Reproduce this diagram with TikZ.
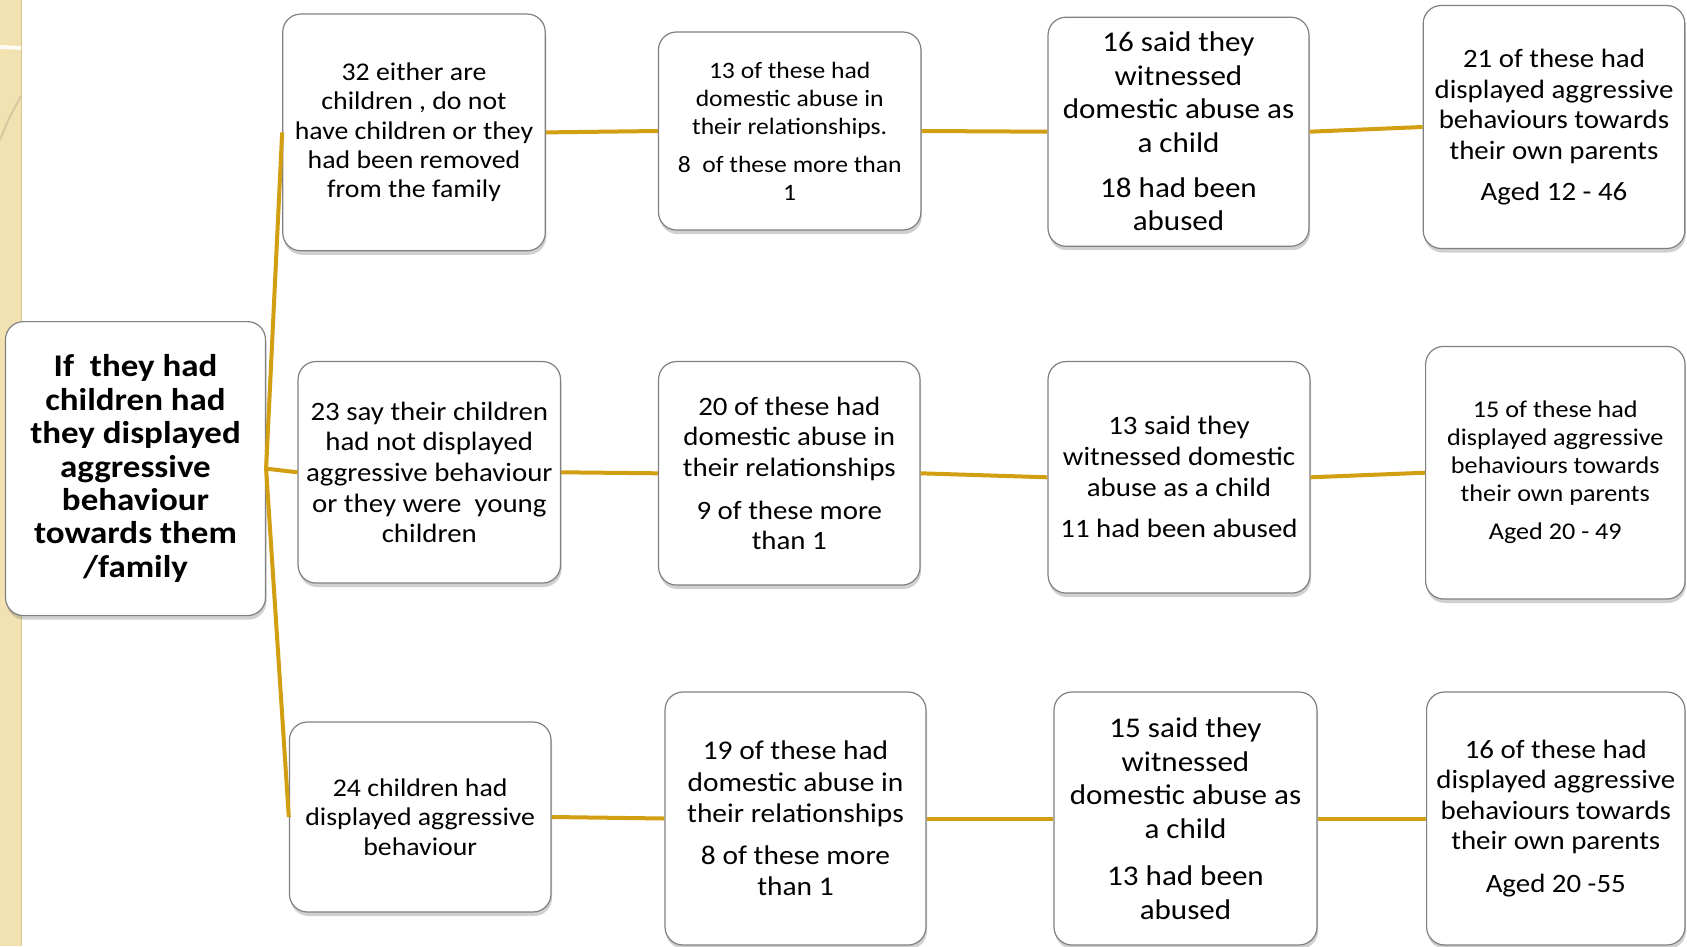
\documentclass[tikz,border=0pt]{standalone}
\usepackage{fontspec}
\setmainfont{Carlito}[FakeStretch=1.09]
\newfontfamily\rootfont{Carlito}[FakeStretch=1.11]
\usetikzlibrary{shadows}
\definecolor{gold}{RGB}{210,158,18}
\definecolor{boxgray}{RGB}{128,128,128}
\definecolor{beige}{RGB}{242,226,178}
\definecolor{beigedark}{RGB}{214,198,152}
\newcommand{\fs}[2]{\fontsize{#1pt}{#2pt}\selectfont}
\tikzset{
  box/.style={draw=boxgray, line width=1.2pt, fill=white, rounded corners=18pt,
    inner sep=0pt, align=center, text=black,
    drop shadow={shadow xshift=1pt, shadow yshift=-4pt, opacity=0.3, fill=black!60}},
  conn/.style={draw=gold, line width=4pt}
}
\begin{document}
\begin{tikzpicture}[x=1pt,y=-1pt]
\useasboundingbox (0,0) rectangle (1687,946);
\fill[white] (0,0) rectangle (1687,946);
% decorative strip
\fill[beige] (0,0) rectangle (21,946);
\draw[beigedark, line width=1pt] (21,0) -- (21,946);
\draw[white!85!beige, line width=4pt] (0,47) -- (21,48);
\draw[beigedark!80!gray, line width=2pt, opacity=0.6] (0,140) .. controls (8,120) .. (21,96);

% nodes
\node[box, minimum width=260pt, minimum height=294pt, font={\rootfont\fs{31.5}{33.4}\bfseries}] (root) at (135.5,468.6)
 {If\ \ they had\\children had\\they displayed\\aggressive\\behaviour\\towards them\\/family};

\node[box, minimum width=262.5pt, minimum height=236.7pt, font={\fs{25.5}{29.3}}] (b1) at (414,132.4)
 {32 either are\\children , do not\\have children or they\\had been removed\\from the family};
\node[box, minimum width=262.5pt, minimum height=198pt, font={\fs{23.5}{28}}] (b2) at (789.7,131)
 {13 of these had\\domestic abuse in\\their relationships.\\[10pt]8\ \ of these more than\\1};
\node[box, minimum width=261pt, minimum height=229pt, font={\fs{28.5}{33.4}}] (b3) at (1178.5,131.7)
 {16 said they\\witnessed\\domestic abuse as\\a child\\[12pt]18 had been\\abused};
\node[box, minimum width=261.6pt, minimum height=243pt, font={\fs{26.5}{30.9}}] (b4) at (1554,127)
 {21 of these had\\displayed aggressive\\behaviours towards\\their own parents\\[10pt]Aged 12 - 46};

\node[box, minimum width=262.5pt, minimum height=221.5pt, font={\fs{26.5}{30.7}}] (c1) at (429.3,472.3)
 {23 say their children\\had not displayed\\aggressive behaviour\\or they were\ \ young\\children};
\node[box, minimum width=261.5pt, minimum height=223.5pt, font={\fs{26.5}{30.7}}] (c2) at (789.3,473.3)
 {20 of these had\\domestic abuse in\\their relationships\\[12pt]9 of these more\\than 1};
\node[box, minimum width=262pt, minimum height=231.5pt, font={\fs{26.5}{30.7}}] (c3) at (1179,477.3)
 {13 said they\\witnessed domestic\\abuse as a child\\[11pt]11 had been abused};
\node[box, minimum width=259.4pt, minimum height=252.6pt, font={\fs{24}{28}}] (c4) at (1555.3,472.7)
 {15 of these had\\displayed aggressive\\behaviours towards\\their own parents\\[10pt]Aged 20 - 49};

\node[box, minimum width=261.6pt, minimum height=190pt, font={\fs{25.5}{29.6}}] (d1) at (420.2,817)
 {24 children had\\displayed aggressive\\behaviour};
\node[box, minimum width=261pt, minimum height=253pt, font={\fs{27}{31.2}}] (d2) at (795.5,818.5)
 {19 of these had\\domestic abuse in\\their relationships\\[11pt]8 of these more\\than 1};
\node[box, minimum width=263pt, minimum height=253pt, font={\fs{28.5}{33.7}}] (d3) at (1185.5,818.5)
 {15 said they\\witnessed\\domestic abuse as\\a child\\[13pt]13 had been\\abused};
\node[box, minimum width=258.4pt, minimum height=253pt, font={\fs{26.5}{30.5}}] (d4) at (1555.8,818.5)
 {16 of these had\\displayed aggressive\\behaviours towards\\their own parents\\[12pt]Aged 20 -55};

% connectors
\draw[conn] (root.east) -- (b1.west);
\draw[conn] (root.east) -- (c1.west);
\draw[conn] (root.east) -- (d1.west);
\draw[conn] (b1.east) -- (b2.west);
\draw[conn] (b2.east) -- (b3.west);
\draw[conn] (b3.east) -- (b4.west);
\draw[conn] (c1.east) -- (c2.west);
\draw[conn] (c2.east) -- (c3.west);
\draw[conn] (c3.east) -- (c4.west);
\draw[conn] (d1.east) -- (d2.west);
\draw[conn] (d2.east) -- (d3.west);
\draw[conn] (d3.east) -- (d4.west);
\end{tikzpicture}
\end{document}
